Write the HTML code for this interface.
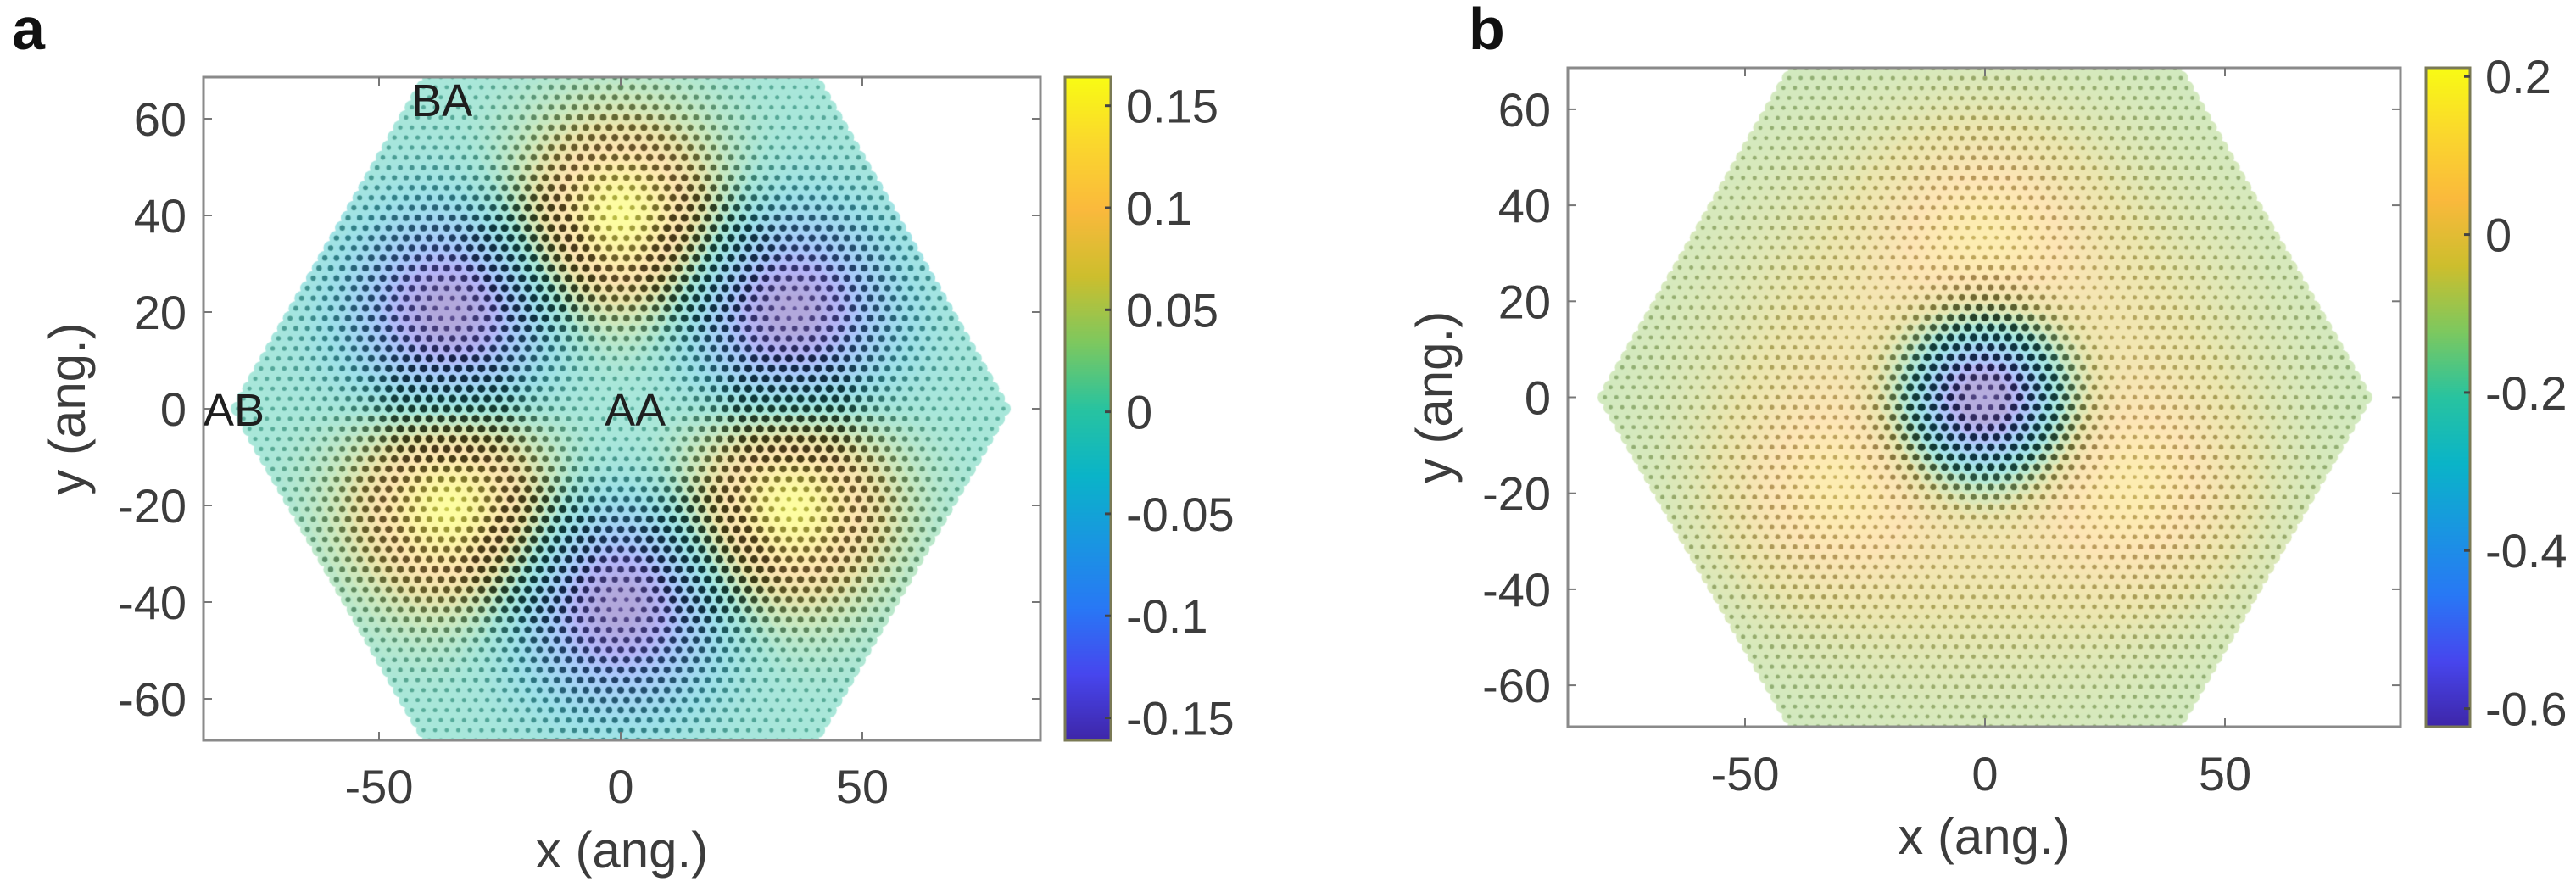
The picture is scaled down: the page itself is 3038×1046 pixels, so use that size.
<!DOCTYPE html>
<html><head><meta charset="utf-8">
<style>
html,body{margin:0;padding:0;background:#fff;}
#root{position:relative;width:3038px;height:1046px;overflow:hidden;font-family:"Liberation Sans",sans-serif;}
canvas,svg{position:absolute;left:0;top:0;}
</style></head>
<body>
<div id="root">
<canvas id="cv" width="3038" height="1046"></canvas>
<svg id="sv" width="3038" height="1046"></svg>
</div>
<script>
// ---------- data ----------
const aPeakX = [0, -35, 35, -35, 35, 0];
const aPeakY = [40, -20, -20, 20, 20, -40];
const aPeakAmp = [0.17, 0.17, 0.17, -0.17, -0.17, -0.17];
const aSigma = 14;
const aBase = 0;
const bPeakX = [0, 0, 0, -33, 33];
const bPeakY = [0, 0, 35, -20, -20];
const bPeakAmp = [-0.72, 0.17, 0.13, 0.13, 0.13];
const bPeakSig = [11, 38, 14, 14, 14];
const bBase = -0.13;
const xTicks = [-50, 0, 50];
const yTicks = [60, 40, 20, 0, -20, -40, -60];
const cbTicksA = [0.15, 0.1, 0.05, 0, -0.05, -0.1, -0.15];
const cbLabelsA = ["0.15","0.1","0.05","0","-0.05","-0.1","-0.15"];
const cbTicksB = [0.2, 0, -0.2, -0.4, -0.6];
const cbLabelsB = ["0.2","0","-0.2","-0.4","-0.6"];
const annotText = ["BA","AB","AA"];
const annotX = [-37, -80, 3];
const annotY = [64, 0, 0];

// ---------- layout ----------
const PA = {l:240, r:1227, t:91, b:873, x0:732, y0:482, s:5.7, cbL:1256, cbR:1310, cbMin:-0.161, cbMax:0.164};
const PB = {l:1849, r:2831, t:80, b:857, x0:2341, y0:468.5, s:5.66, cbL:2861, cbR:2913, cbMin:-0.623, cbMax:0.211};

const parula = [[0,[62,38,168]],[0.1,[71,70,238]],[0.2,[40,120,245]],[0.3,[25,150,225]],[0.4,[10,180,200]],
 [0.5,[40,195,160]],[0.6,[125,200,95]],[0.7,[205,190,45]],[0.8,[250,185,60]],[0.9,[250,215,45]],[1,[249,251,20]]];
function cmap(t){t=Math.max(0,Math.min(1,t));for(let i=1;i<parula.length;i++){if(t<=parula[i][0]){const [t0,c0]=parula[i-1],[t1,c1]=parula[i];const u=(t-t0)/(t1-t0);return c0.map((v,k)=>v+(c1[k]-v)*u);}}return parula[parula.length-1][1];}
function rgb(c){return `rgb(${c.map(v=>Math.round(v)).join(',')})`;}
function mix(c,d,u){return c.map((v,k)=>v+(d[k]-v)*u);}

function fA(x,y){let s=aBase;for(let i=0;i<aPeakX.length;i++){const dx=x-aPeakX[i],dy=y-aPeakY[i];s+=aPeakAmp[i]*Math.exp(-(dx*dx+dy*dy)/(2*aSigma*aSigma));}return s;}
function fB(x,y){let s=bBase;for(let i=0;i<bPeakX.length;i++){const dx=x-bPeakX[i],dy=y-bPeakY[i];s+=bPeakAmp[i]*Math.exp(-(dx*dx+dy*dy)/(2*bPeakSig[i]*bPeakSig[i]));}return s;}

const cv=document.getElementById('cv');const ctx=cv.getContext('2d');
function drawLattice(P,f,gmax,dBase,light){
  const a=2.4,R=80,h=a*Math.sqrt(3)/2;
  const sx=x=>P.x0+x*P.s, sy=y=>P.y0-y*P.s;
  ctx.save();ctx.beginPath();ctx.rect(P.l,P.t,P.r-P.l,P.b-P.t);ctx.clip();
  const sites=[];
  for(let j=-40;j<=40;j++){const y=j*h;if(Math.abs(y)>69.3)continue;
    for(let i=-40;i<=40;i++){const x=i*a+(j&1?a/2:0);
      if(Math.abs(y)>Math.sqrt(3)*(R-Math.abs(x))+0.01)continue;sites.push([x,y]);}}
  const vals=sites.map(([x,y])=>{const v=f(x,y);const e=0.3;const gx=(f(x+e,y)-f(x-e,y))/(2*e),gy=(f(x,y+e)-f(x,y-e))/(2*e);return [v,Math.hypot(gx,gy)];});
  sites.forEach(([x,y],k)=>{const c=cmap((vals[k][0]-P.cbMin)/(P.cbMax-P.cbMin));
    ctx.fillStyle=rgb(mix(c,[255,255,255],light));ctx.beginPath();ctx.arc(sx(x),sy(y),8.6,0,7);ctx.fill();});
  sites.forEach(([x,y],k)=>{const c=cmap((vals[k][0]-P.cbMin)/(P.cbMax-P.cbMin));
    const d=Math.min(1,dBase+(1-dBase)*vals[k][1]/gmax);
    ctx.fillStyle=rgb(mix(c,[0,0,0],0.3+0.45*d));ctx.globalAlpha=0.5+0.45*d;
    ctx.beginPath();ctx.arc(sx(x),sy(y),2.2+2.4*d,0,7);ctx.fill();ctx.globalAlpha=1;});
  ctx.restore();
  for(let y=P.t;y<P.b;y++){const v=P.cbMax-(y-P.t)/(P.b-P.t)*(P.cbMax-P.cbMin);ctx.fillStyle=rgb(cmap((v-P.cbMin)/(P.cbMax-P.cbMin)));ctx.fillRect(P.cbL,y,P.cbR-P.cbL,1);}
}
drawLattice(PA,fA,0.009,0.1,0.6);
drawLattice(PB,fB,0.035,0.08,0.62);

const NS='http://www.w3.org/2000/svg';const sv=document.getElementById('sv');
function el(tag,attrs,txt){const e=document.createElementNS(NS,tag);for(const k in attrs)e.setAttribute(k,attrs[k]);if(txt!==undefined)e.textContent=txt;sv.appendChild(e);return e;}
function axes(P,tag,tickFont,xlabBase,titleBase,ytitleX,panelX,panelY){
  const sx=x=>P.x0+x*P.s, sy=y=>P.y0-y*P.s;
  let e=el('rect',{x:P.l,y:P.t,width:P.r-P.l,height:P.b-P.t,fill:'none',stroke:'#8a8a8a','stroke-width':3});
  
  xTicks.forEach(v=>{const X=sx(v);
    el('line',{x1:X,x2:X,y1:P.b,y2:P.b-10,stroke:'#777','stroke-width':2});
    el('line',{x1:X,x2:X,y1:P.t,y2:P.t+10,stroke:'#777','stroke-width':2});
    const t=el('text',{x:X,y:xlabBase,'font-size':tickFont,fill:'#3c3c3c','text-anchor':'middle'},String(v));
    });
  yTicks.forEach(v=>{const Y=sy(v);
    el('line',{x1:P.l,x2:P.l+10,y1:Y,y2:Y,stroke:'#777','stroke-width':2});
    el('line',{x1:P.r,x2:P.r-10,y1:Y,y2:Y,stroke:'#777','stroke-width':2});
    const t=el('text',{x:P.l-20,y:Y+20,'font-size':tickFont,fill:'#3c3c3c','text-anchor':'end'},String(v));
    });
  let t=el('text',{x:(P.l+P.r)/2,y:titleBase,'font-size':60,fill:'#3c3c3c','text-anchor':'middle'},'x (ang.)');
  
  t=el('text',{x:ytitleX,y:P.y0,'font-size':60,fill:'#3c3c3c','text-anchor':'middle',transform:`rotate(-90 ${ytitleX} ${P.y0})`},'y (ang.)');
  
  t=el('text',{x:panelX,y:panelY,'font-size':70,'font-weight':'bold',fill:'#111'},tag);
  
  e=el('rect',{x:P.cbL,y:P.t,width:P.cbR-P.cbL,height:P.b-P.t,fill:'none',stroke:'#7a7a55','stroke-width':3});
  
}
function cbTicks(P,tag,vals,labels){
  vals.forEach((v,i)=>{const Y=P.t+(P.cbMax-v)/(P.cbMax-P.cbMin)*(P.b-P.t);
    el('line',{x1:P.cbR,x2:P.cbR-7,y1:Y,y2:Y,stroke:'#444','stroke-width':3});
    const t=el('text',{x:P.cbR+18,y:Y+20,'font-size':56,fill:'#3c3c3c'},labels[i]);
    });
}
axes(PA,'a',56,947,1023,100,14,58);
cbTicks(PA,'a',cbTicksA,cbLabelsA);
axes(PB,'b',56,932,1007,1712,1732,58);
cbTicks(PB,'b',cbTicksB,cbLabelsB);
annotText.forEach((s,i)=>{const t=el('text',{x:PA.x0+annotX[i]*PA.s,y:PA.y0-annotY[i]*PA.s+20,'font-size':54,fill:'#1e1e1e','text-anchor':'middle'},s);
  });
</script>
</body></html>
